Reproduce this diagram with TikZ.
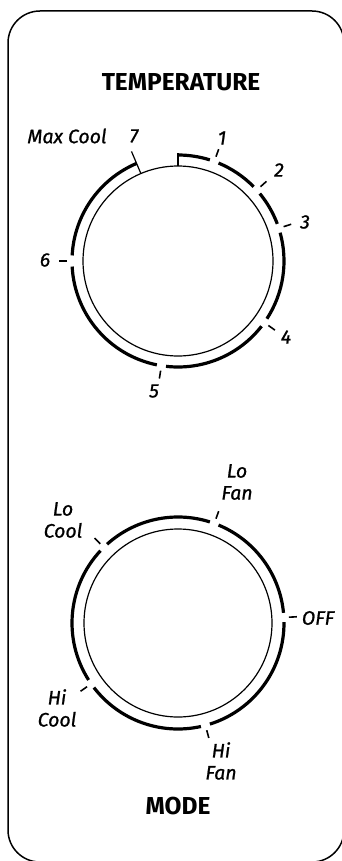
\documentclass[tikz,border=0pt]{standalone}
\usepackage{fontspec}
\setmainfont{Fira Sans}[ItalicFeatures={FakeBold=1}]
\usepackage{tikz}

\begin{document}
\begin{tikzpicture}[
    x=1pt, y=1pt,
    panel/.style={draw=black, line width=1.5pt, rounded corners=32pt},
    dialface/.style={circle, draw=black, line width=1.2pt, inner sep=0pt, minimum size=190pt},
    rimarc/.style={line width=3.2pt},
    dialtick/.style={line width=1.6pt},
    heading/.style={font=\bfseries\fontsize{24.5}{26}\selectfont},
    marklabel/.style={font=\itshape\fontsize{19.5}{22}\selectfont, align=center, inner sep=0pt}
]
\useasboundingbox (0,0) rectangle (342,-861);

% Panel
\draw[panel] (8,-11) rectangle (344,-862);

% Temperature Dial
\node[heading] (temptitle) at (181,-82) {TEMPERATURE};
\node[dialface] (tempdial) at (178,-261) {};

\draw[rimarc] ([shift={(90:106pt)}]tempdial.center) arc[start angle=90, end angle=72.5, radius=106pt];
\draw[rimarc] ([shift={(67.5:106pt)}]tempdial.center) arc[start angle=67.5, end angle=44.5, radius=106pt];
\draw[rimarc] ([shift={(39.5:106pt)}]tempdial.center) arc[start angle=39.5, end angle=20.5, radius=106pt];
\draw[rimarc] ([shift={(15.5:106pt)}]tempdial.center) arc[start angle=15.5, end angle=-33, radius=106pt];
\draw[rimarc] ([shift={(-38:106pt)}]tempdial.center) arc[start angle=-38, end angle=-96.5, radius=106pt];
\draw[rimarc] ([shift={(-101.5:106pt)}]tempdial.center) arc[start angle=-101.5, end angle=-177, radius=106pt];
\draw[rimarc] ([shift={(177:106pt)}]tempdial.center) arc[start angle=177, end angle=113, radius=106pt];

% stop at 1 and pointer at 7
\draw[dialtick, line width=1.2pt] ([shift={(90:95pt)}]tempdial.center) -- ([shift={(90:107.6pt)}]tempdial.center);
\draw[dialtick, line width=1.2pt] ([shift={(113:95pt)}]tempdial.center) -- ([shift={(113:119pt)}]tempdial.center);

\draw[dialtick] ([shift={(70:111pt)}]tempdial.center) -- ([shift={(70:119pt)}]tempdial.center);
\draw[dialtick] ([shift={(42:111pt)}]tempdial.center) -- ([shift={(42:119pt)}]tempdial.center);
\draw[dialtick] ([shift={(18:111pt)}]tempdial.center) -- ([shift={(18:119pt)}]tempdial.center);
\draw[dialtick] ([shift={(-35.5:111pt)}]tempdial.center) -- ([shift={(-35.5:119pt)}]tempdial.center);
\draw[dialtick] ([shift={(-99:111pt)}]tempdial.center) -- ([shift={(-99:119pt)}]tempdial.center);
\draw[dialtick] ([shift={(180:111pt)}]tempdial.center) -- ([shift={(180:119pt)}]tempdial.center);

\node[marklabel] (t1) at (222,-138) {1};
\node[marklabel] (t2) at (279,-170) {2};
\node[marklabel] (t3) at (305,-222) {3};
\node[marklabel] (t4) at (286,-337) {4};
\node[marklabel] (t5) at (154,-391) {5};
\node[marklabel] (t6) at (45,-260) {6};
\node[marklabel] (t7) at (134,-136) {7};
\node[marklabel] (maxcool) at (67,-136) {Max Cool};

% Mode Dial
\node[dialface, minimum size=188pt] (modedial) at (178,-623) {};

\draw[rimarc] ([shift={(5.5:106pt)}]modedial.center) arc[start angle=5.5, end angle=67.5, radius=106pt];
\draw[rimarc] ([shift={(72.5:106pt)}]modedial.center) arc[start angle=72.5, end angle=132, radius=106pt];
\draw[rimarc] ([shift={(137:106pt)}]modedial.center) arc[start angle=137, end angle=212.5, radius=106pt];
\draw[rimarc] ([shift={(217.5:106pt)}]modedial.center) arc[start angle=217.5, end angle=282.5, radius=106pt];
\draw[rimarc] ([shift={(-72.5:106pt)}]modedial.center) arc[start angle=-72.5, end angle=0.5, radius=106pt];

\draw[dialtick] ([shift={(3:111pt)}]modedial.center) -- ([shift={(3:119pt)}]modedial.center);
\draw[dialtick] ([shift={(70:111pt)}]modedial.center) -- ([shift={(70:119pt)}]modedial.center);
\draw[dialtick] ([shift={(134.5:111pt)}]modedial.center) -- ([shift={(134.5:119pt)}]modedial.center);
\draw[dialtick] ([shift={(215:111pt)}]modedial.center) -- ([shift={(215:119pt)}]modedial.center);
\draw[dialtick] ([shift={(-75:111pt)}]modedial.center) -- ([shift={(-75:119pt)}]modedial.center);

\node[marklabel] (off) at (318,-618) {OFF};
\node[marklabel] (lofan) at (237,-482) {Lo\\Fan};
\node[marklabel] (locool) at (63,-520) {Lo\\Cool};
\node[marklabel] (hicool) at (57,-708) {Hi\\Cool};
\node[marklabel] (hifan) at (221,-761) {Hi\\Fan};
\node[heading] (modetitle) at (178,-806) {MODE};

\end{tikzpicture}
\end{document}
